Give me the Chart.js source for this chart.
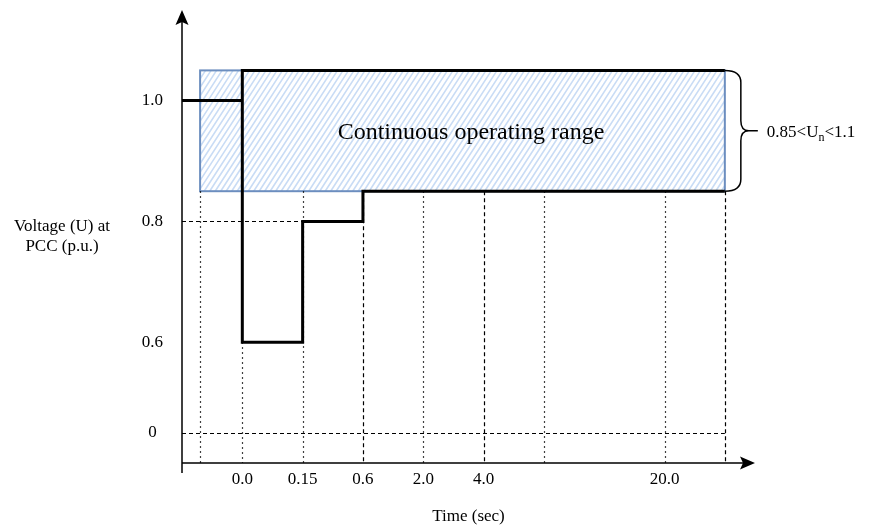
<!DOCTYPE html>
<html>
<head>
<meta charset="utf-8">
<script src="https://cdn.jsdelivr.net/npm/chart.js@4.4.1/dist/chart.umd.min.js"></script>
<style>
  html, body { margin: 0; padding: 0; background: #fff; }
</style>
</head>
<body>
<canvas id="myChart" width="871" height="529"></canvas>
<script>
const FONT = '"Liberation Serif", "Times New Roman", serif';

// Time axis is not to scale: every labelled instant gets its own slot
const timeLabels = ["0.0", "0.15", "0.6", "2.0", "4.0", "20.0"];
const timeValues = [0.0, 0.15, 0.6, 2.0, 4.0, 20.0];
const timeSlots = [0, 1, 2, 3, 4, 7];

// Voltage axis is schematic as well
const voltLabels = ["0", "0.6", "0.8", "1.0"];
const voltValues = [0, 0.6, 0.8, 0.85, 1.0, 1.1];
const voltSlots = [0, 1.5, 3.5, 4, 5.5, 6];
const voltTicks = [0, 0.6, 0.8, 1.0];

// Fault ride-through envelope (time in s, voltage in p.u.)
const envTime = [0.0, 0.0, 0.15, 0.15, 0.6, 0.6];
const envVolt = [1.1, 0.6, 0.6, 0.8, 0.8, 0.85];
const preFaultVolt = 1.0;

// Continuous operating range
const rangeLow = 0.85;
const rangeHigh = 1.1;

// slots that are not tied to a labelled time
const AXIS_START = -1;
const RANGE_START = -0.7;
const SPARE_SLOT = 5;
const END_SLOT = 8;

function lookup(v, from, to) {
  const i = from.indexOf(v);
  return i >= 0 ? to[i] : v;
}
const tPos = t => lookup(t, timeValues, timeSlots);
const uPos = u => lookup(u, voltValues, voltSlots);

const DOT = [1.5, 3.5];
const DASH = [4, 3];

// guide lines: [x slot, top voltage, dash]
const vGuides = [
  [RANGE_START, rangeLow, DOT],
  [tPos(0.0), 0.6, DOT],
  [tPos(0.15), rangeLow, DOT],
  [tPos(0.6), rangeLow, DASH],
  [tPos(2.0), rangeLow, DOT],
  [tPos(4.0), rangeLow, DASH],
  [SPARE_SLOT, rangeLow, DOT],
  [tPos(20.0), rangeLow, DOT],
  [END_SLOT, rangeLow, DASH],
];
// [voltage, x end slot]
const hGuides = [
  [0.8, tPos(0.15)],
  [0, END_SLOT],
];

const envelope = [{ x: END_SLOT, y: uPos(rangeHigh) }].concat(
  envTime.map((t, i) => ({ x: tPos(t), y: uPos(envVolt[i]) })),
  [{ x: END_SLOT, y: uPos(rangeLow) }]
);
const preFault = [
  { x: AXIS_START, y: uPos(preFaultVolt) },
  { x: tPos(0.0), y: uPos(preFaultVolt) },
];

const schemePlugin = {
  id: "scheme",
  beforeDatasetsDraw(chart) {
    const { ctx, scales: { x, y } } = chart;
    const x0 = x.getPixelForValue(RANGE_START);
    const x1 = x.getPixelForValue(END_SLOT);
    const y0 = y.getPixelForValue(uPos(rangeHigh));
    const y1 = y.getPixelForValue(uPos(rangeLow));

    // hatched band
    ctx.save();
    ctx.beginPath();
    ctx.rect(x0, y0, x1 - x0, y1 - y0);
    ctx.clip();
    ctx.strokeStyle = "#c9dcf5";
    ctx.lineWidth = 1.6;
    const dx = (y1 - y0) / Math.tan((57 * Math.PI) / 180);
    ctx.beginPath();
    for (let px = x0 - dx; px < x1 + 2; px += 5.5) {
      ctx.moveTo(px, y1);
      ctx.lineTo(px + dx, y0);
    }
    ctx.stroke();
    ctx.restore();

    ctx.save();
    ctx.strokeStyle = "#6c8ebf";
    ctx.lineWidth = 2;
    ctx.strokeRect(x0, y0, x1 - x0, y1 - y0);
    ctx.restore();

    // guides
    ctx.save();
    ctx.strokeStyle = "#000";
    ctx.lineWidth = 1.2;
    const yAxis = y.getPixelForValue(y.min);
    vGuides.forEach(([sx, top, dash]) => {
      const px = Math.round(x.getPixelForValue(sx)) + 0.5;
      ctx.setLineDash(dash);
      ctx.beginPath();
      ctx.moveTo(px, y.getPixelForValue(uPos(top)));
      ctx.lineTo(px, yAxis);
      ctx.stroke();
    });
    hGuides.forEach(([v, end]) => {
      const py = Math.round(y.getPixelForValue(uPos(v))) + 0.5;
      ctx.setLineDash(DASH);
      ctx.beginPath();
      ctx.moveTo(x.getPixelForValue(AXIS_START), py);
      ctx.lineTo(x.getPixelForValue(end), py);
      ctx.stroke();
    });
    ctx.restore();
  },
  afterDraw(chart) {
    const { ctx, scales: { x, y } } = chart;
    const ax = x.getPixelForValue(AXIS_START);
    const ay = y.getPixelForValue(y.min);
    const topY = y.getPixelForValue(y.max);
    const rightX = x.getPixelForValue(x.max);

    ctx.save();
    ctx.strokeStyle = "#000";
    ctx.fillStyle = "#000";
    ctx.lineWidth = 1.5;
    ctx.beginPath();
    ctx.moveTo(ax, ay + 10);
    ctx.lineTo(ax, topY + 10);
    ctx.moveTo(ax, ay);
    ctx.lineTo(rightX - 10, ay);
    ctx.stroke();
    // arrow heads
    ctx.beginPath();
    ctx.moveTo(ax, topY);
    ctx.lineTo(ax + 6.5, topY + 15);
    ctx.lineTo(ax, topY + 12);
    ctx.lineTo(ax - 6.5, topY + 15);
    ctx.closePath();
    ctx.fill();
    ctx.beginPath();
    ctx.moveTo(rightX, ay);
    ctx.lineTo(rightX - 15, ay - 6.5);
    ctx.lineTo(rightX - 12, ay);
    ctx.lineTo(rightX - 15, ay + 6.5);
    ctx.closePath();
    ctx.fill();

    // brace for the operating range
    const bx = x.getPixelForValue(END_SLOT);
    const bt = y.getPixelForValue(uPos(rangeHigh));
    const bb = y.getPixelForValue(uPos(rangeLow));
    const bm = (bt + bb) / 2;
    const bw = 16;
    ctx.lineWidth = 1.5;
    ctx.beginPath();
    ctx.moveTo(bx, bt);
    ctx.quadraticCurveTo(bx + bw, bt, bx + bw, bt + 12);
    ctx.lineTo(bx + bw, bm - 10);
    ctx.quadraticCurveTo(bx + bw, bm, bx + bw + 8, bm);
    ctx.quadraticCurveTo(bx + bw, bm, bx + bw, bm + 10);
    ctx.lineTo(bx + bw, bb - 12);
    ctx.quadraticCurveTo(bx + bw, bb, bx, bb);
    ctx.moveTo(bx + bw + 8, bm);
    ctx.lineTo(bx + bw + 17, bm);
    ctx.stroke();

    // texts
    ctx.textBaseline = "alphabetic";
    ctx.textAlign = "left";
    let tx = bx + bw + 26;
    const base = bm + 6;
    ctx.font = "17px " + FONT;
    ctx.fillText("0.85<U", tx, base);
    tx += ctx.measureText("0.85<U").width;
    ctx.font = "12px " + FONT;
    ctx.fillText("n", tx, base + 4);
    tx += ctx.measureText("n").width;
    ctx.font = "17px " + FONT;
    ctx.fillText("<1.1", tx, base);

    ctx.font = "24px " + FONT;
    ctx.textAlign = "center";
    ctx.textBaseline = "middle";
    ctx.fillText("Continuous operating range", 471, bm + 2);

    ctx.font = "17px " + FONT;
    ctx.fillText("Voltage (U) at", 62, 227);
    ctx.fillText("PCC (p.u.)", 62, 247);
    ctx.restore();
  },
};

const cfg = {
  type: "line",
  data: {
    datasets: [
      { data: preFault },
      { data: envelope },
    ],
  },
  options: {
    responsive: false,
    animation: false,
    layout: { autoPadding: false, padding: { top: 10, right: 116, bottom: 0, left: 122 } },
    elements: {
      line: { borderColor: "#000", borderWidth: 3, tension: 0, borderJoinStyle: "miter", fill: false },
      point: { radius: 0 },
    },
    plugins: { legend: { display: false }, tooltip: { enabled: false } },
    scales: {
      x: {
        type: "linear",
        min: AXIS_START,
        max: 8.5,
        grid: { display: false, drawTicks: false, tickLength: 0 },
        border: { display: false },
        afterBuildTicks: s => { s.ticks = timeSlots.map(v => ({ value: v })); },
        afterFit: s => { s.height = 66; s.paddingLeft = 0; s.paddingRight = 0; },
        ticks: {
          autoSkip: false,
          maxRotation: 0,
          padding: 6,
          color: "#000",
          font: { family: FONT, size: 17 },
          callback: (v, i) => timeLabels[i],
        },
        title: {
          display: true,
          text: "Time (sec)",
          color: "#000",
          font: { family: FONT, size: 17 },
          padding: { top: 0, bottom: 2 },
        },
      },
      y: {
        type: "linear",
        min: -0.5,
        max: 7,
        grid: { display: false, drawTicks: false, tickLength: 0 },
        border: { display: false },
        afterBuildTicks: s => { s.ticks = voltTicks.map(v => ({ value: uPos(v) })); },
        afterFit: s => { s.width = 60; s.paddingTop = 0; s.paddingBottom = 0; },
        ticks: {
          crossAlign: "center",
          padding: 19,
          color: "#000",
          font: { family: FONT, size: 17 },
          callback: (v, i) => voltLabels[i],
        },
      },
    },
  },
  plugins: [schemePlugin],
};

new Chart(document.getElementById("myChart"), cfg);
</script>
</body>
</html>
